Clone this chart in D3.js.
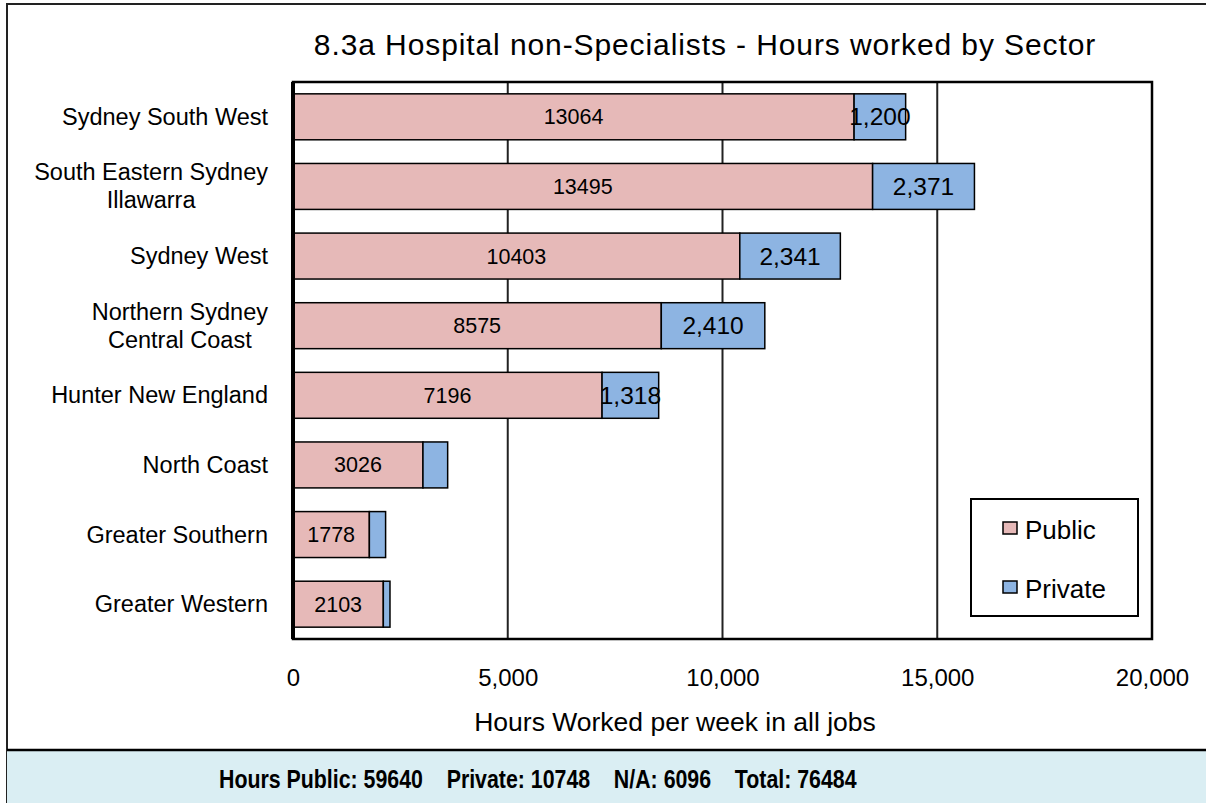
<!DOCTYPE html>
<html>
<head>
<meta charset="utf-8">
<script src="https://cdn.jsdelivr.net/npm/d3@7"></script>
<style>
  body { margin: 0; background: #fff; }
  svg { display: block; font-family: "Liberation Sans", Arial, sans-serif; }
</style>
</head>
<body>
<svg id="chart" width="1206" height="803"></svg>
<script>
// data
var categories = ["Sydney South West", "South Eastern Sydney\nIllawarra", "Sydney West",
  "Northern Sydney\nCentral Coast", "Hunter New England", "North Coast",
  "Greater Southern", "Greater Western"];
var publicHours = [13064, 13495, 10403, 8575, 7196, 3026, 1778, 2103];
var privateHours = [1200, 2371, 2341, 2410, 1318, 575, 378, 155];
var xTicks = [0, 5000, 10000, 15000, 20000];
var seriesNames = ["Public", "Private"];
var summaryLabels = ["Hours Public:", "Private:", "N/A:", "Total:"];
var summaryValues = [59640, 10748, 6096, 76484];

var colors = { Public: "#E6B9B8", Private: "#8DB4E2" };

var svg = d3.select("#chart");
var plot = { left: 293, right: 1152, top: 82, bottom: 639 };

// outer frame and footer band
svg.append("rect").attr("x", 7).attr("y", 4).attr("width", 1210).attr("height", 810)
  .attr("fill", "#fff").attr("stroke", "#222").attr("stroke-width", 2);
svg.append("rect").attr("x", 7).attr("y", 750).attr("width", 1210).attr("height", 60)
  .attr("fill", "#DAEEF3");
svg.append("line").attr("x1", 7).attr("x2", 1206).attr("y1", 750).attr("y2", 750)
  .attr("stroke", "#000").attr("stroke-width", 2.5);

var x = d3.scaleLinear().domain([0, 20000]).range([plot.left, plot.right]);
var y = d3.scaleBand().domain(categories).range([plot.top, plot.bottom])
  .paddingInner(0.34).paddingOuter(0.17);

// title
svg.append("text").attr("x", 705).attr("y", 55).attr("text-anchor", "middle")
  .attr("font-size", 30).attr("letter-spacing", 0.9).attr("fill", "#000")
  .text("8.3a Hospital non-Specialists - Hours worked by Sector");

// gridlines
svg.append("g").selectAll("line").data(xTicks.slice(1, -1)).enter().append("line")
  .attr("x1", function(d) { return x(d); }).attr("x2", function(d) { return x(d); })
  .attr("y1", plot.top).attr("y2", plot.bottom)
  .attr("stroke", "#222").attr("stroke-width", 2);

// bars
var rows = categories.map(function(c, i) {
  return { cat: c, pub: publicHours[i], priv: privateHours[i] };
});
var bars = svg.append("g").selectAll("g").data(rows).enter().append("g");
bars.append("rect")
  .attr("x", x(0)).attr("y", function(d) { return y(d.cat); })
  .attr("width", function(d) { return x(d.pub) - x(0); })
  .attr("height", y.bandwidth())
  .attr("fill", colors.Public).attr("stroke", "#000").attr("stroke-width", 1.5);
bars.append("rect")
  .attr("x", function(d) { return x(d.pub); }).attr("y", function(d) { return y(d.cat); })
  .attr("width", function(d) { return x(d.pub + d.priv) - x(d.pub); })
  .attr("height", y.bandwidth())
  .attr("fill", colors.Private).attr("stroke", "#000").attr("stroke-width", 1.5);

// value labels
bars.append("text")
  .attr("x", function(d) { return (x(0) + x(d.pub)) / 2; })
  .attr("y", function(d) { return y(d.cat) + y.bandwidth() / 2 + 7.5; })
  .attr("text-anchor", "middle").attr("font-size", 21.5).attr("fill", "#000")
  .text(function(d) { return d.pub; });
bars.filter(function(d) { return d.priv > 1000; }).append("text")
  .attr("x", function(d) { return (x(d.pub) + x(d.pub + d.priv)) / 2; })
  .attr("y", function(d) { return y(d.cat) + y.bandwidth() / 2 + 8.5; })
  .attr("text-anchor", "middle").attr("font-size", 24.5).attr("fill", "#000")
  .text(function(d) { return d3.format(",")(d.priv); });

// plot frame
svg.append("rect").attr("x", plot.left).attr("y", plot.top)
  .attr("width", plot.right - plot.left).attr("height", plot.bottom - plot.top)
  .attr("fill", "none").attr("stroke", "#000").attr("stroke-width", 2.5);
svg.append("line").attr("x1", plot.left).attr("x2", plot.left)
  .attr("y1", plot.top).attr("y2", plot.bottom)
  .attr("stroke", "#000").attr("stroke-width", 4);

// x axis labels
var xAxis = d3.axisBottom(x).tickValues(xTicks).tickSize(0).tickPadding(0)
  .tickFormat(d3.format(","));
var gx = svg.append("g").attr("transform", "translate(0,669)").call(xAxis);
gx.select(".domain").remove();
gx.selectAll("text").attr("font-size", 24).attr("font-family", null)
  .attr("fill", "#000").attr("dy", "0.71em");

svg.append("text").attr("x", 675).attr("y", 731).attr("text-anchor", "middle")
  .attr("font-size", 26.5).attr("fill", "#000").text("Hours Worked per week in all jobs");

// category labels: each block centred on its widest line, right edge at the gap
var yAxis = d3.axisLeft(y).tickSize(0).tickPadding(25).tickFormat("");
var gy = svg.append("g").attr("transform", "translate(" + plot.left + ",0)").call(yAxis);
gy.select(".domain").remove();
gy.selectAll(".tick").each(function(d) {
  var lines = d.split("\n");
  var t = d3.select(this).append("text")
    .attr("text-anchor", "middle").attr("font-size", 23.5).attr("fill", "#000");
  var spans = lines.map(function(line, i) {
    return t.append("tspan").attr("y", (i - (lines.length - 1) / 2) * 28 + 8).text(line);
  });
  var w = d3.max(spans, function(s) { return s.node().getComputedTextLength(); });
  spans.forEach(function(s) { s.attr("x", -25 - w / 2); });
});

// legend
var legend = svg.append("g");
legend.append("rect").attr("x", 971).attr("y", 499).attr("width", 167).attr("height", 117)
  .attr("fill", "#fff").attr("stroke", "#000").attr("stroke-width", 2);
var li = legend.selectAll("g").data(seriesNames).enter().append("g")
  .attr("transform", function(d, i) { return "translate(1003," + (522 + i * 59) + ")"; });
li.append("rect").attr("width", 14).attr("height", 12)
  .attr("fill", function(d) { return colors[d]; }).attr("stroke", "#000").attr("stroke-width", 1.5);
li.append("text").attr("x", 22).attr("y", 17).attr("font-size", 26).attr("fill", "#000")
  .text(function(d) { return d; });

// footer summary - condensed bold, squeezed to the original width
var gap = "\u00a0\u00a0\u00a0\u00a0";
var foot = svg.append("text").attr("x", 0).attr("y", 0).attr("font-size", 25.5)
  .attr("font-weight", "bold").attr("fill", "#000")
  .text(summaryLabels.map(function(l, i) { return l + " " + summaryValues[i]; }).join(gap));
var footW = foot.node().getComputedTextLength();
foot.attr("transform", "translate(219,788) scale(" + (638 / footW) + ",1)");
</script>
</body>
</html>
